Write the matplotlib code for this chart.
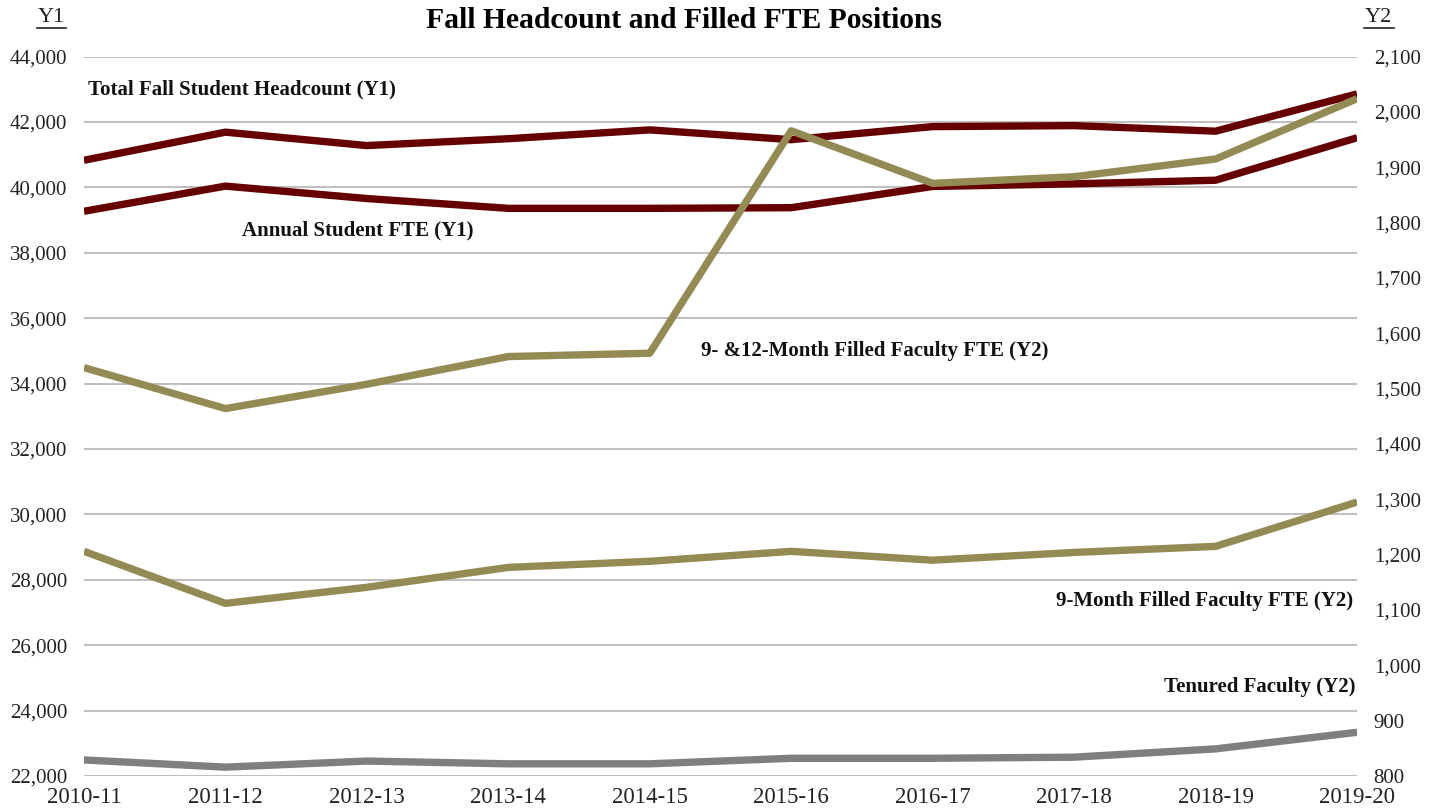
import numpy as np
import matplotlib.pyplot as plt

plt.rcParams['font.family'] = ['Liberation Serif', 'DejaVu Serif']

years = ['2010-11', '2011-12', '2012-13', '2013-14', '2014-15',
         '2015-16', '2016-17', '2017-18', '2018-19', '2019-20']

# Y1 series
headcount = [40830, 41690, 41280, 41490, 41760, 41460, 41860, 41890, 41720, 42860]
student_fte = [39270, 40040, 39660, 39360, 39360, 39380, 40030, 40110, 40220, 41520]

# Y2 series
fac_9_12 = [1538, 1464, 1508, 1558, 1564, 1966, 1871, 1883, 1915, 2024]
fac_9 = [1206, 1112, 1141, 1177, 1188, 1206, 1190, 1204, 1215, 1295]
tenured = [829, 816, 827, 822, 822, 832, 832, 834, 849, 879]

maroon = '#660000'
gold = '#948A54'
gray = '#7F7F7F'

fig = plt.figure(figsize=(14.4, 8.09), dpi=100)
ax = fig.add_axes([0.0583, 0.0408, 0.8841, 0.8892])
ax2 = ax.twinx()

x = np.arange(len(years))

ax.plot(x, headcount, color=maroon, lw=5.3, solid_capstyle='butt', zorder=3)
ax.plot(x, student_fte, color=maroon, lw=5.3, solid_capstyle='butt', zorder=3)
ax2.plot(x, fac_9_12, color=gold, lw=5.3, solid_capstyle='butt', zorder=3)
ax2.plot(x, fac_9, color=gold, lw=5.3, solid_capstyle='butt', zorder=3)
ax2.plot(x, tenured, color=gray, lw=5.3, solid_capstyle='butt', zorder=3)

ax.set_xlim(0, len(years) - 1)
ax.set_ylim(22000, 44000)
ax2.set_ylim(800, 2100)
ax.set_yticks(np.arange(22000, 44001, 2000))
ax2.set_yticks(np.arange(800, 2101, 100))
ax.set_yticklabels(['{:,}'.format(v) for v in range(22000, 44001, 2000)])
ax2.set_yticklabels(['{:,}'.format(v) for v in range(800, 2101, 100)])
ax.set_xticks(x)
ax.set_xticklabels(years)

ax.grid(axis='y', color='#c0c0c0', lw=1.5, zorder=0)
for a in (ax, ax2):
    for s in a.spines.values():
        s.set_visible(False)
    a.tick_params(length=0, labelsize=15, colors='#222222')
ax.tick_params(axis='y', pad=12)
ax2.tick_params(axis='y', pad=12)
ax.tick_params(axis='x', pad=8, labelsize=16.5)

fig.text(0.475, 0.975, 'Fall Headcount and Filled FTE Positions', ha='center', va='center',
         fontsize=21.3, fontweight='bold')
fig.text(0.036, 0.978, 'Y1', ha='center', va='center', fontsize=16, color='#222222')
fig.text(0.957, 0.978, 'Y2', ha='center', va='center', fontsize=16, color='#222222')
fig.add_artist(plt.Line2D([0.026, 0.046], [0.966, 0.966], color='#222222', lw=1.2))
fig.add_artist(plt.Line2D([0.947, 0.968], [0.966, 0.966], color='#222222', lw=1.2))

lab = dict(fontsize=15, fontweight='bold', va='center', color='#111111')
ax.text(0.03, 43000, 'Total Fall Student Headcount (Y1)', ha='left', **lab)
ax.text(1.12, 38680, 'Annual Student FTE (Y1)', ha='left', **lab)
ax.text(4.36, 34990, '9- &12-Month Filled Faculty FTE (Y2)', ha='left', **lab)
ax.text(8.97, 27350, '9-Month Filled Faculty FTE (Y2)', ha='right', **lab)
ax.text(8.99, 24720, 'Tenured Faculty (Y2)', ha='right', **lab)

plt.savefig('out.png', dpi=100)
